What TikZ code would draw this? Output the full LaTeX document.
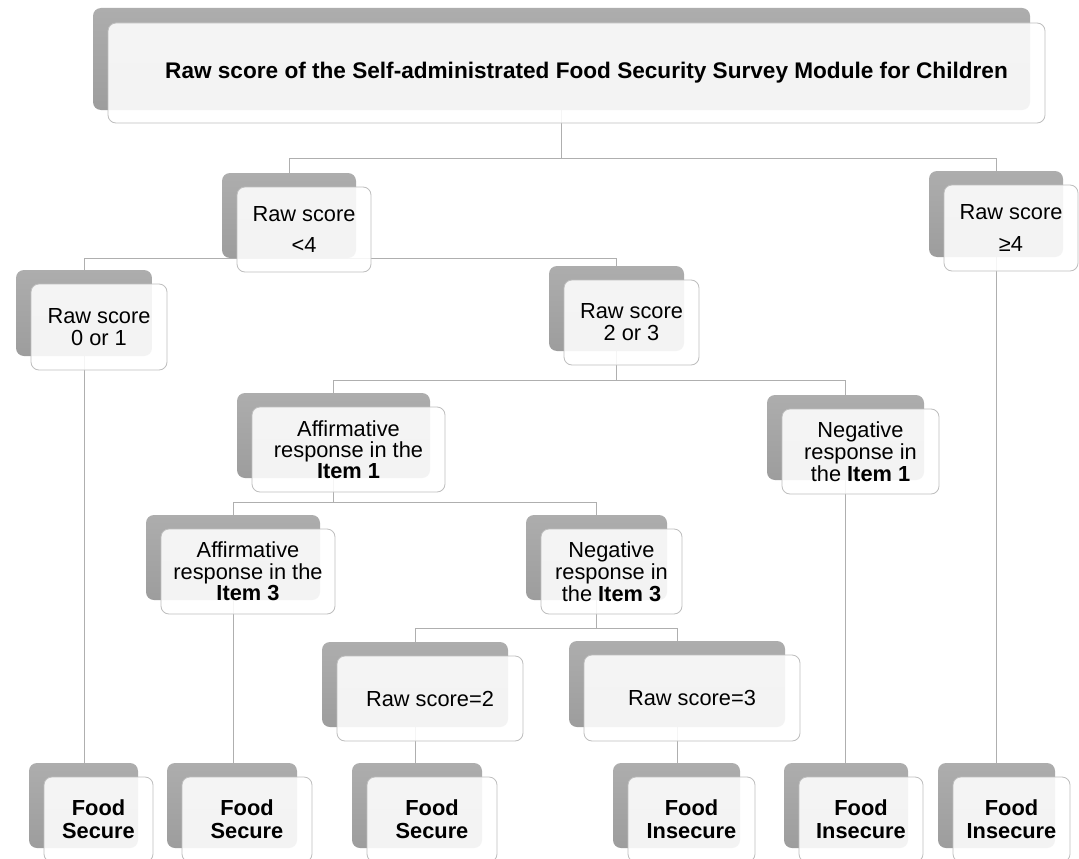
\documentclass[tikz,border=0pt]{standalone}
\usepackage{fontspec}
\setmainfont{Liberation Sans}
\usetikzlibrary{calc}
\pgfdeclarelayer{bg}
\pgfdeclarelayer{edges}
\pgfsetlayers{bg,edges,main}
\definecolor{linegray}{HTML}{AFAFAF}
\definecolor{bordergray}{HTML}{BEBEBE}
\definecolor{shtop}{HTML}{ADADAD}
\definecolor{shbot}{HTML}{9D9D9D}
\tikzset{
  back/.style={rounded corners=8pt, top color=shtop, bottom color=shbot, draw=none, inner sep=0pt, outer sep=0pt},
  front/.style={rounded corners=8pt, fill=white, fill opacity=0.88, draw=bordergray, line width=0.8pt, inner sep=0pt, outer sep=0pt},
  lbl/.style={align=center, inner sep=0pt},
  conn/.style={draw=linegray, line width=1pt},
}
% name, x1, y1, x2, y2, baselineskip, text
\newcommand\mybox[7]{%
  \node[back, anchor=north west, minimum width={#4pt-#2pt}, minimum height={#5pt-#3pt}] (s#1) at (#2,#3) {};
  \node[front, anchor=north west, minimum width={#4pt-#2pt}, minimum height={#5pt-#3pt}] (f#1) at (#2+15,#3+14) {};
  \node[lbl, font=\fontsize{21.8}{#6}\selectfont] (#1) at (f#1.center) {#7};
}
\begin{document}
\begin{tikzpicture}[x=1pt, y=-1pt]
\useasboundingbox (0,0) rectangle (1079,859);
\begin{pgfonlayer}{bg}
  \fill[white] (0,0) rectangle (1079,859);
\end{pgfonlayer}

\node[back, anchor=north west, minimum width=937pt, minimum height=102pt] (stop) at (93,8) {};
\node[front, anchor=north west, minimum width=937pt, minimum height=100pt] (ftop) at (108,23) {};
\node[lbl, anchor=west, font=\fontsize{22.6}{26}\selectfont\bfseries] (top) at (165,73) {Raw score of the Self-administrated Food Security Survey Module for Children};

\mybox{lt}{222}{173}{356}{258}{31}{Raw score\\<4}
\mybox{ge}{929}{171}{1063}{257}{32}{Raw score\\≥4}
\mybox{ro}{16}{270}{152}{356}{22}{Raw score\\0 or 1}
\mybox{rt}{549}{266}{684}{351}{22}{Raw score\\2 or 3}
\mybox{aa}{237}{393}{430}{478}{21}{Affirmative\\response in the\\\textbf{Item 1}}
\mybox{na}{767}{395}{924}{480}{22}{Negative\\response in\\the \textbf{Item 1}}
\mybox{ab}{146}{515}{320}{600}{21.5}{Affirmative\\response in the\\\textbf{Item 3}}
\mybox{nb}{526}{515}{667}{600}{22}{Negative\\response in\\the \textbf{Item 3}}
\mybox{rtwo}{322}{642}{508}{727}{22}{Raw score=2}
\mybox{rthree}{569}{641}{785}{727}{22}{Raw score=3}
\mybox{fsa}{29}{763}{138}{848}{23}{\textbf{Food}\\\textbf{Secure}}
\mybox{fsb}{167}{763}{297}{848}{23}{\textbf{Food}\\\textbf{Secure}}
\mybox{fsc}{352}{763}{482}{848}{23}{\textbf{Food}\\\textbf{Secure}}
\mybox{fia}{613}{763}{740}{848}{23}{\textbf{Food}\\\textbf{Insecure}}
\mybox{fib}{784}{763}{908}{848}{23}{\textbf{Food}\\\textbf{Insecure}}
\mybox{fic}{938}{763}{1055}{848}{23}{\textbf{Food}\\\textbf{Insecure}}

\coordinate (bus1) at (0,158);
\coordinate (bus2) at (0,258);
\coordinate (bus3) at (0,380);
\coordinate (bus4) at (0,502);
\coordinate (bus5) at (0,628);

\begin{pgfonlayer}{edges}
  \draw[conn] (stop.center) -- (stop.center |- bus1) -| (slt.north);
  \draw[conn] (stop.center |- bus1) -| (sge.north);
  \draw[conn] (slt.center) -- (slt.center |- bus2) -| (sro.north);
  \draw[conn] (slt.center |- bus2) -| (srt.north);
  \draw[conn] (srt.center) -- (srt.center |- bus3) -| (saa.north);
  \draw[conn] (srt.center |- bus3) -| (sna.north);
  \draw[conn] (saa.center) -- (saa.center |- bus4) -| (sab.north);
  \draw[conn] (saa.center |- bus4) -| (snb.north);
  \draw[conn] (snb.center) -- (snb.center |- bus5) -| (srtwo.north);
  \draw[conn] (snb.center |- bus5) -| (srthree.north);
  \draw[conn] (sro.center) -- (sro.center |- sfsa.north);
  \draw[conn] (sab.center) -- (sab.center |- sfsb.north);
  \draw[conn] (srtwo.center) -- (srtwo.center |- sfsc.north);
  \draw[conn] (srthree.center) -- (srthree.center |- sfia.north);
  \draw[conn] (sna.center) -- (sna.center |- sfib.north);
  \draw[conn] (sge.center) -- (sge.center |- sfic.north);
\end{pgfonlayer}
\end{tikzpicture}
\end{document}
